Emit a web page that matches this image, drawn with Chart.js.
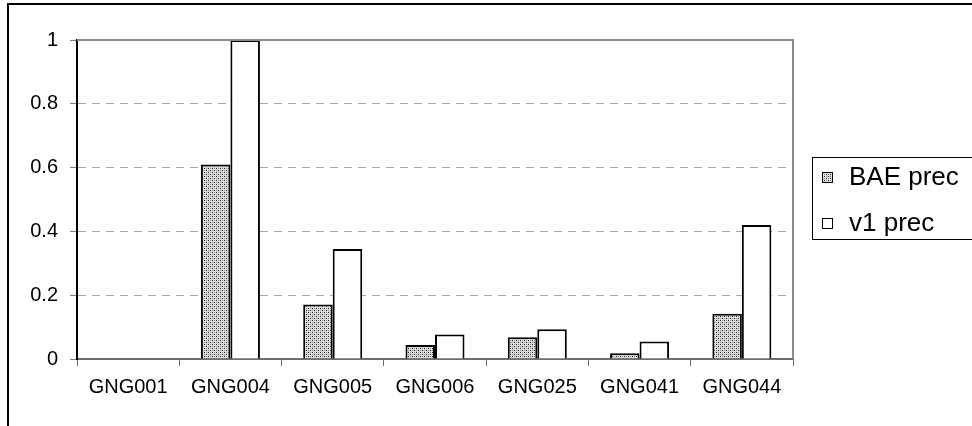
<!DOCTYPE html>
<html>
<head>
<meta charset="utf-8">
<script src="https://cdn.jsdelivr.net/npm/chart.js@4"></script>
<style>
	html, body { margin: 0; padding: 0; background: #fff; }
	#wrap { width: 972px; height: 426px; position: relative; }
</style>
</head>
<body>
<div id="wrap"><canvas id="myChart" width="972" height="426"></canvas></div>
<script>
// data
const categories = ["GNG001", "GNG004", "GNG005", "GNG006", "GNG025", "GNG041", "GNG044"];
const baePrec = [0, 0.61, 0.171, 0.044, 0.068, 0.018, 0.142];
const v1Prec = [0, 1.0, 0.345, 0.077, 0.093, 0.055, 0.42];
const seriesNames = ["BAE prec", "v1 prec"];
const yTickLabels = ["0", "0.2", "0.4", "0.6", "0.8", "1"];

const FONT = "'Liberation Sans', Arial, sans-serif";

// dotted fill like the old excel pattern
function makeDots() {
	var c = document.createElement('canvas');
	c.width = 4;
	c.height = 4;
	var g = c.getContext('2d');
	g.fillStyle = "#dcdcdc";
	g.fillRect(0, 0, 4, 4);
	g.fillStyle = "#2a2a2a";
	g.fillRect(0, 0, 1, 1);
	g.fillRect(2, 2, 1, 1);
	g.fillStyle = "#8a8a8a";
	g.fillRect(2, 0, 1, 1);
	g.fillRect(0, 2, 1, 1);
	return g.createPattern(c, 'repeat');
}
const dots = makeDots();

const frame = {
	id: 'frame',
	afterDraw: function(chart) {
		var ctx = chart.ctx;
		var a = chart.chartArea;
		ctx.save();
		// plot border top/right
		ctx.strokeStyle = "#8c8c8c";
		ctx.lineWidth = 2;
		ctx.beginPath();
		ctx.moveTo(a.left, a.top);
		ctx.lineTo(a.right, a.top);
		ctx.lineTo(a.right, a.bottom);
		ctx.stroke();
		// outer frame (only top and left visible)
		ctx.strokeStyle = "#000";
		ctx.lineWidth = 2;
		ctx.beginPath();
		ctx.moveTo(8, 430);
		ctx.lineTo(8, 4);
		ctx.lineTo(975, 4);
		ctx.stroke();
		// legend box
		ctx.lineWidth = 1;
		ctx.strokeRect(812.5, 157.5, 170, 82);
		var fills = [dots, "#fff"];
		var ys = [177, 223];
		ctx.font = "26px " + FONT;
		ctx.textBaseline = 'middle';
		ctx.textAlign = 'left';
		for (var i = 0; i < seriesNames.length; i++) {
			ctx.fillStyle = fills[i];
			ctx.fillRect(822, ys[i] - 5, 11, 11);
			ctx.strokeStyle = "#000";
			ctx.strokeRect(822.5, ys[i] - 4.5, 10, 10);
			ctx.fillStyle = "#000";
			ctx.fillText(seriesNames[i], 849, ys[i] + 1);
		}
		ctx.restore();
	}
};

const myChart = document.getElementById("myChart");
const config = {
	type: 'bar',
	data: {
		labels: categories,
		datasets: [
			{
				label: seriesNames[0],
				data: baePrec,
				backgroundColor: dots,
				borderColor: "#000",
				borderWidth: 2,
			},
			{
				label: seriesNames[1],
				data: v1Prec,
				backgroundColor: "#fff",
				borderColor: "#000",
				borderWidth: 2,
			},
		],
	},
	options: {
		responsive: false,
		animation: false,
		categoryPercentage: 0.577,
		barPercentage: 1,
		layout: { padding: { top: 40, right: 179, left: 0, bottom: 0 } },
		plugins: {
			legend: { display: false },
			tooltip: { enabled: false },
		},
		scales: {
			x: {
				grid: {
					drawOnChartArea: false,
					drawTicks: true,
					tickLength: 7,
					tickColor: "#6e6e6e",
					lineWidth: 1,
				},
				border: { color: "#6e6e6e", width: 2 },
				ticks: { color: "#000", font: { family: FONT, size: 20 }, padding: 9, maxRotation: 0 },
				afterFit: function(scale) { scale.height = 67; },
			},
			y: {
				min: 0,
				max: 1,
				grid: {
					color: "#a8a8a8",
					tickColor: "#808080",
					tickLength: 7,
					tickBorderDash: [],
					lineWidth: 1,
				},
				border: { color: "#000", width: 2, dash: [8, 6] },
				ticks: {
					stepSize: 0.2,
					color: "#000",
					padding: 12,
					font: { family: FONT, size: 20 },
					callback: function(v, i) { return yTickLabels[i]; },
				},
				afterFit: function(scale) { scale.width = 77; },
			},
		},
	},
	plugins: [frame],
};
const Chart1 = new Chart(myChart, config);
</script>
</body>
</html>
